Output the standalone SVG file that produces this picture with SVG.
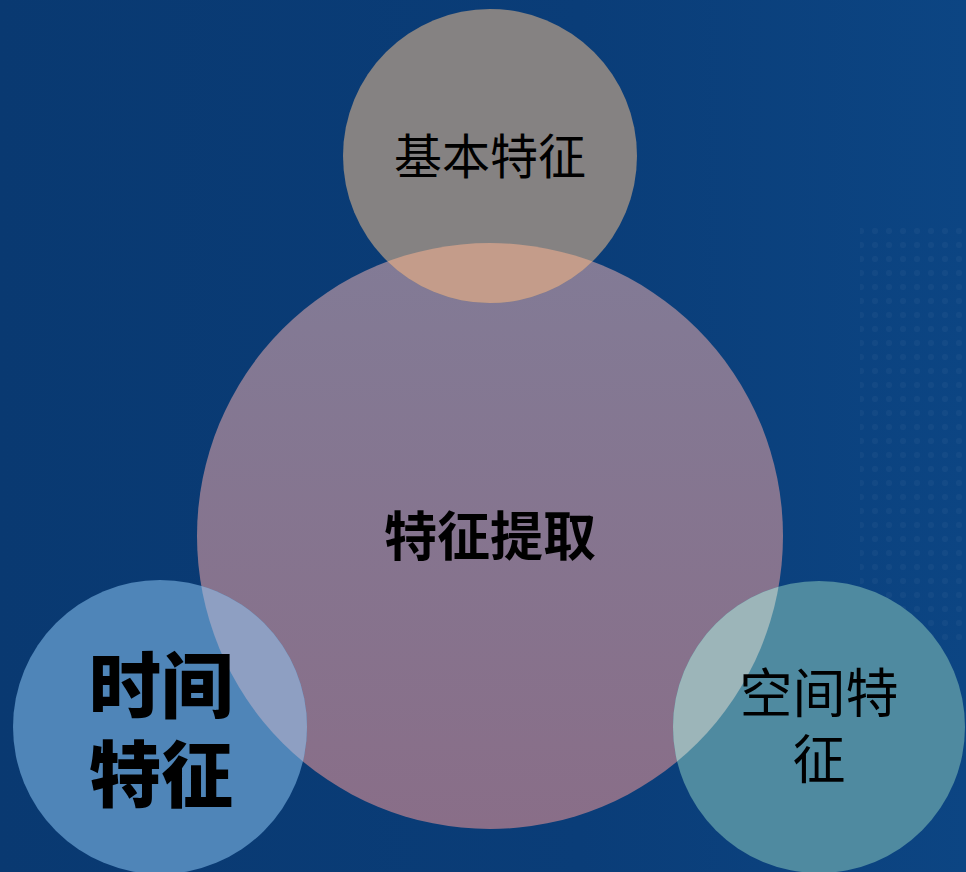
<svg xmlns="http://www.w3.org/2000/svg" width="966" height="872" viewBox="0 0 966 872">
<defs>
<linearGradient id="bg" x1="0" y1="0" x2="1" y2="0">
<stop offset="0" stop-color="#093971"/>
<stop offset="0.6" stop-color="#0a3d78"/>
<stop offset="1" stop-color="#0c4583"/>
</linearGradient>
<linearGradient id="bigG" x1="0" y1="0" x2="0" y2="1">
<stop offset="0" stop-color="#827b96"/>
<stop offset="1" stop-color="#896e88"/>
</linearGradient>
<clipPath id="cBig"><circle cx="490" cy="536" r="293"/></clipPath>
<pattern id="dots" width="14" height="14" patternUnits="userSpaceOnUse">
<circle cx="7" cy="7" r="3" fill="#ffffff" fill-opacity="0.03"/>
</pattern>
</defs>
<style>
.reg{font-family:"Noto Sans CJK SC","Noto Sans",sans-serif;font-weight:400;fill:#000;text-anchor:middle}
.bold{font-family:"Noto Sans CJK SC","Noto Sans",sans-serif;font-weight:700;fill:#000;text-anchor:middle}
.black{font-family:"Noto Sans CJK SC","Noto Sans",sans-serif;font-weight:900;fill:#000;text-anchor:middle}
</style>
<rect width="966" height="872" fill="url(#bg)"/>
<rect x="860" y="220" width="106" height="420" fill="url(#dots)"/>
<g id="connectors"/>
<g id="node-center">
<circle cx="490" cy="536" r="293" fill="url(#bigG)"/>
</g>
<g id="node-top">
<circle cx="490" cy="156" r="147" fill="#858282"/>
<circle cx="490" cy="156" r="147" fill="#c49c8a" clip-path="url(#cBig)"/>
<text class="reg" x="490" y="174" font-size="48">基本特征</text>
</g>
<g id="node-left">
<circle cx="160" cy="727" r="147" fill="#4f85b8"/>
<circle cx="160" cy="727" r="147" fill="#8e9fc2" clip-path="url(#cBig)"/>
<text class="black" font-size="72"><tspan x="161" y="712">时间</tspan><tspan x="161" y="801">特征</tspan></text>
</g>
<g id="node-right">
<circle cx="819" cy="727" r="146" fill="#4f8aa0"/>
<circle cx="819" cy="727" r="146" fill="#9cb5b9" clip-path="url(#cBig)"/>
<text class="reg" font-size="53"><tspan x="819" y="713">空间特</tspan><tspan x="819" y="779">征</tspan></text>
</g>
<text class="bold" x="490" y="556" font-size="53">特征提取</text>
</svg>
